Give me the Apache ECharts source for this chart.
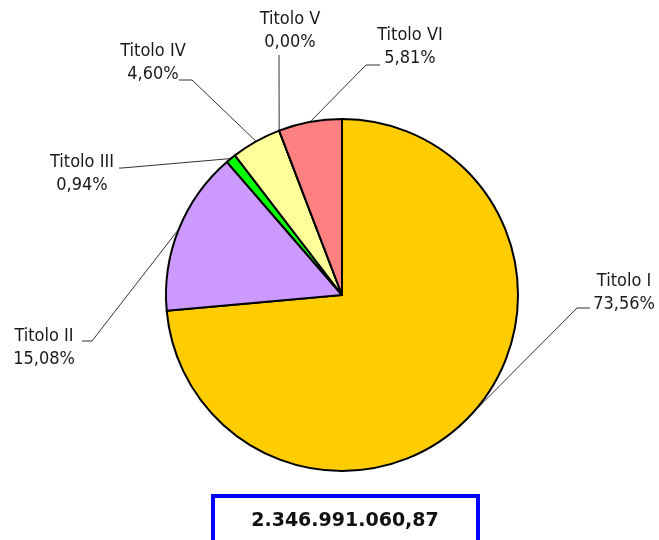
<!DOCTYPE html>
<html>
<head>
<meta charset="utf-8">
<script src="https://cdn.jsdelivr.net/npm/echarts@6/dist/echarts.min.js"></script>
<style>
html,body{margin:0;padding:0;background:#fff;}
#main{width:659px;height:540px;}
</style>
</head>
<body>
<div id="main"></div>
<script>
const categories = ['Titolo I', 'Titolo II', 'Titolo III', 'Titolo IV', 'Titolo V', 'Titolo VI'];
const percentValues = [73.56, 15.08, 0.94, 4.60, 0.00, 5.81];
const sliceColors = ['#FFCC00', '#CC99FF', '#00FF00', '#FFFF99', '#FF8080', '#FF8080'];
const totalLabel = '2.346.991.060,87';

// label placement (center of the two-line block) and leader line bend/end points
const labelPlacement = [
  { x: 624, y: 293, bend: [577, 308], end: [590, 308] },
  { x: 44,  y: 348, bend: [92, 341],  end: [82, 341] },
  { x: 82,  y: 174, bend: [122, 168], end: [119, 168] },
  { x: 153, y: 63,  bend: [192, 80],  end: [179, 80] },
  { x: 290, y: 31,  bend: [279, 58],  end: [279, 55] },
  { x: 410, y: 47,  bend: [366, 65],  end: [380, 65] }
];

const chart = echarts.init(document.getElementById('main'), null, { renderer: 'canvas' });

const fmt = v => v.toFixed(2).replace('.', ',') + '%';

chart.setOption({
  animation: false,
  backgroundColor: '#ffffff',
  series: [{
    type: 'pie',
    center: [342, 295],
    radius: 176,
    startAngle: 90,
    clockwise: true,
    avoidLabelOverlap: false,
    data: categories.map((c, i) => ({ name: c, value: percentValues[i], itemStyle: { color: sliceColors[i] } })),
    itemStyle: { borderColor: '#000000', borderWidth: 2 },
    label: {
      show: true,
      position: 'outside',
      formatter: p => p.name + '\n' + fmt(percentValues[p.dataIndex]),
      fontFamily: '"DejaVu Sans Condensed", "DejaVu Sans", sans-serif',
      fontSize: 18,
      lineHeight: 23,
      color: '#1a1a1a',
      align: 'center'
    },
    labelLine: {
      show: true,
      length: 10,
      length2: 10,
      smooth: false,
      lineStyle: { color: '#333333', width: 1 }
    },
    labelLayout: function (params) {
      const pl = labelPlacement[params.dataIndex];
      const start = params.labelLinePoints ? params.labelLinePoints[0] : pl.bend;
      return {
        x: pl.x,
        y: pl.y,
        align: 'center',
        verticalAlign: 'middle',
        labelLinePoints: [start, pl.bend, pl.end]
      };
    },
    emphasis: { disabled: true }
  }],
  graphic: [
    {
      type: 'rect',
      shape: { x: 213, y: 496, width: 265, height: 60 },
      style: { fill: '#ffffff', stroke: '#0000FF', lineWidth: 4 }
    },
    {
      type: 'text',
      x: 345,
      y: 521,
      style: {
        text: totalLabel,
        font: 'bold 19px "DejaVu Sans", sans-serif',
        fill: '#111111',
        align: 'center',
        verticalAlign: 'middle'
      }
    }
  ]
});
</script>
</body>
</html>
